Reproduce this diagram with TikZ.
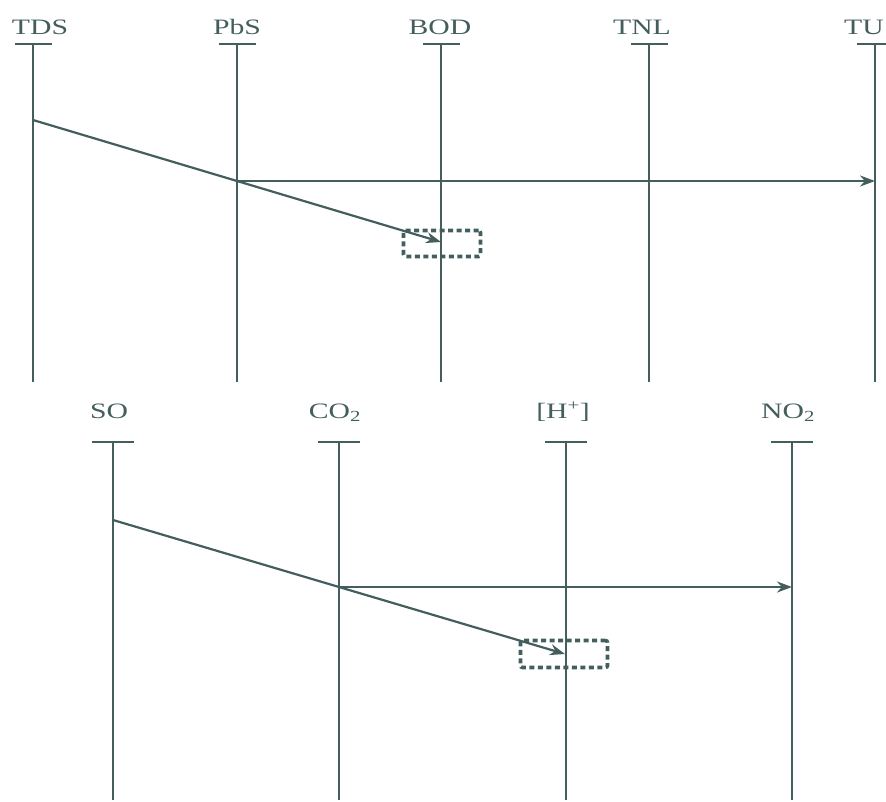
\documentclass[tikz,border=0pt]{standalone}
\usepackage{fontspec}
\newfontfamily\labfont[FakeStretch=1.35]{Liberation Serif}
\usetikzlibrary{arrows.meta}
\definecolor{ink}{RGB}{68,94,93}
\begin{document}
\begin{tikzpicture}[x=1pt,y=-1pt,
 axis/.style={draw=ink,line width=2.2pt},
 lab/.style={text=ink,font=\labfont\fontsize{22}{22}\selectfont,anchor=base,inner sep=0pt},
 flow/.style={draw=ink,line width=2.2pt,-{Stealth[length=15pt,width=11pt]}},
 dotbox/.style={draw=ink,line width=3.6pt,dash pattern=on 5pt off 3.5pt,rounded corners=2pt,inner sep=0pt}]
\useasboundingbox (0,0) rectangle (886,801);
% ---- top row ----
\foreach \n/\x/\lx/\t in {tds/33/40/TDS, pbs/237/237/PbS, bod/441/440/BOD, tnl/649/642/TNL, tu/875/864/TU}{
  \coordinate (\n-t) at (\x,44);
  \coordinate (\n-b) at (\x,382);
  \node[lab] (\n-l) at (\lx,34) {\t};
  \draw[axis] ([xshift=-18.5pt]\n-t) -- ([xshift=18.5pt]\n-t);
  \draw[axis] (\n-t) -- (\n-b);
}
\coordinate (s1) at (33,120);
\coordinate (c1) at (237,181);
\coordinate (e1) at (441,242);
\coordinate (h1) at (875,181);
\draw[flow] (s1) -- (e1);
\draw[flow] (c1) -- (h1);
\node[dotbox,minimum width=77pt,minimum height=26pt] (box1) at (442,243.5) {};
% ---- bottom row ----
\foreach \n/\x/\lx/\t in {so/113/109/SO, co/339/335/CO\textsubscript{2}, hp/566/563/{[H\textsuperscript{+}]}, no/792/788/NO\textsubscript{2}}{
  \coordinate (\n-t) at (\x,442);
  \coordinate (\n-b) at (\x,800);
  \node[lab] (\n-l) at (\lx,418) {\t};
  \draw[axis] ([xshift=-21pt]\n-t) -- ([xshift=21pt]\n-t);
  \draw[axis] (\n-t) -- (\n-b);
}
\coordinate (s2) at (113,520);
\coordinate (c2) at (339,587);
\coordinate (e2) at (565,654);
\coordinate (h2) at (792,587);
\draw[flow] (s2) -- (e2);
\draw[flow] (c2) -- (h2);
\node[dotbox,minimum width=87pt,minimum height=27pt] (box2) at (564,654) {};
\end{tikzpicture}
\end{document}
